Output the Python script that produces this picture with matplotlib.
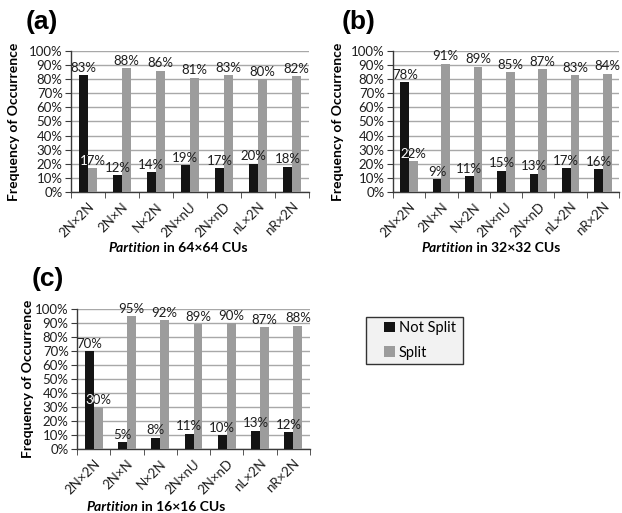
import matplotlib
matplotlib.use("Agg")
import matplotlib.pyplot as plt
from matplotlib.patches import Rectangle
import numpy as np

plt.rcParams['font.family'] = ['Lato', 'DejaVu Sans']

partitions = ["2N×2N", "2N×N", "N×2N", "2N×nU", "2N×nD", "nL×2N", "nR×2N"]

not_split_64 = [83, 12, 14, 19, 17, 20, 18]
split_64 = [17, 88, 86, 81, 83, 80, 82]

not_split_32 = [78, 9, 11, 15, 13, 17, 16]
split_32 = [22, 91, 89, 85, 87, 83, 84]

not_split_16 = [70, 5, 8, 11, 10, 13, 12]
split_16 = [30, 95, 92, 89, 90, 87, 88]

yticks = [0, 10, 20, 30, 40, 50, 60, 70, 80, 90, 100]

BLACK = "#141414"
GRAY = "#9c9c9c"
GRID = "#a8a8a8"
AXIS = "#3a3a3a"
TXT = "#1e1e1e"

W, H = 622, 513
fig = plt.figure(figsize=(W / 100, H / 100), dpi=100)


def px_axes(left, top, right, bottom):
    return fig.add_axes([left / W, 1 - bottom / H, (right - left) / W, (bottom - top) / H])


def mid_y(ax):
    p = ax.get_position()
    return (p.y0 + p.y1) / 2


def panel(ax, ns, sp, tag, tag_xy, ylab_x):
    x = np.arange(len(partitions))
    w = 0.27
    b1 = ax.bar(x - w / 2, ns, w, color=BLACK, zorder=3, label="Not Split")
    b2 = ax.bar(x + w / 2, sp, w, color=GRAY, zorder=3, label="Split")
    for bars, vals in ((b1, ns), (b2, sp)):
        for r, v in zip(bars, vals):
            ax.annotate(f"{v}%", (r.get_x() + r.get_width() / 2, v),
                        xytext=(0, 1), textcoords="offset points",
                        ha="center", va="bottom", fontsize=9.5, color=TXT,
                        zorder=4, annotation_clip=False)
    # where a label runs over the neighbouring dark bar, show it in white there
    for rb, rg, v in zip(b1, b2, sp):
        t = ax.annotate(f"{v}%", (rg.get_x() + rg.get_width() / 2, v),
                        xytext=(0, 1), textcoords="offset points",
                        ha="center", va="bottom", fontsize=9.5, color="white",
                        zorder=5, annotation_clip=False)
        t.set_clip_path(rb)
    ax.set_xlim(-0.5, len(partitions) - 0.5)
    ax.set_ylim(0, 100)
    ax.set_yticks(yticks)
    ax.set_yticklabels([f"{t}%" for t in yticks], fontsize=9.5, color=TXT)
    ax.yaxis.grid(True, color=GRID, lw=1, zorder=0)
    ax.set_axisbelow(True)
    ax.set_xticks(x)
    ax.set_xticklabels(partitions, rotation=45, ha="right", va="top",
                       rotation_mode="anchor", fontsize=9.5, color=TXT)
    ax.set_xticks(np.arange(len(partitions) + 1) - 0.5, minor=True)
    ax.tick_params(axis="x", which="major", length=0, pad=6)
    ax.tick_params(axis="x", which="minor", length=4, color=AXIS, direction="out")
    ax.tick_params(axis="y", length=4, color=AXIS, direction="out", pad=2)
    for s in ("top", "right"):
        ax.spines[s].set_visible(False)
    for s in ("left", "bottom"):
        ax.spines[s].set_color(AXIS)
        ax.spines[s].set_linewidth(1)
    fig.text(tag_xy[0] / W, 1 - tag_xy[1] / H, tag, fontsize=19, fontweight="bold",
             family="Liberation Sans", ha="left", va="top")
    fig.text(ylab_x / W, mid_y(ax), "Frequency of Occurrence", rotation=90,
             fontsize=10, fontweight="bold", ha="center", va="center")
    return b1, b2


def xlabel(center_x, y, size_txt):
    # italic "Partition" followed by the upright remainder, centred as one line
    t1 = fig.text(0, 1 - y / H, "Partition", fontsize=10, fontweight="bold",
                  style="italic", ha="left", va="center")
    t2 = fig.text(0, 1 - y / H, f" in {size_txt} CUs", fontsize=10, fontweight="bold",
                  ha="left", va="center")
    fig.canvas.draw()
    r = fig.canvas.get_renderer()
    w1 = t1.get_window_extent(r).width
    w2 = t2.get_window_extent(r).width
    start = center_x - (w1 + w2) / 2
    t1.set_x(start / W)
    t2.set_x((start + w1) / W)


ax_a = px_axes(71, 51, 309, 192)
ax_b = px_axes(393, 51, 619, 192)
ax_c = px_axes(77, 309, 310, 449)

h1, h2 = panel(ax_a, not_split_64, split_64, "(a)", (26, 10), 14)
panel(ax_b, not_split_32, split_32, "(b)", (342, 10), 338)
panel(ax_c, not_split_16, split_16, "(c)", (32, 267), 28)

xlabel(178, 248, "64×64")
xlabel(491, 248, "32×32")
xlabel(156, 507, "16×16")

# legend box
fig.patches.append(Rectangle((366 / W, 1 - 364 / H), 97 / W, 47 / H,
                             transform=fig.transFigure, facecolor="#f2f2f2",
                             edgecolor="#333333", lw=1, zorder=1))
leg = fig.legend([h1, h2], ["Not Split", "Split"], loc="upper left",
                 bbox_to_anchor=(384 / W, 1 - 321 / H), fontsize=10.5,
                 frameon=False, handlelength=0.75, handleheight=0.75,
                 handletextpad=0.25, borderpad=0, labelspacing=0.72,
                 borderaxespad=0)
leg.set_zorder(2)

fig.savefig("out.png", dpi=100)
